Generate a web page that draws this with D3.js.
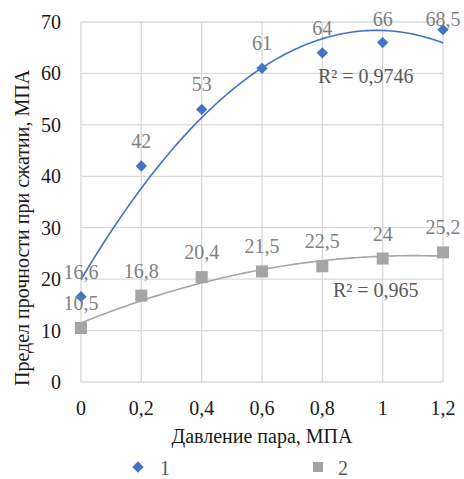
<!DOCTYPE html>
<html>
<head>
<meta charset="utf-8">
<script src="https://cdn.jsdelivr.net/npm/d3@7"></script>
<style>
  body { margin: 0; background: #fff; font-family: "Times New Roman", Tinos, "Liberation Serif", serif; }
  #chart, #chart text { font-family: "Times New Roman", Tinos, "Liberation Serif", serif; }
</style>
</head>
<body>
<svg id="chart" width="464" height="479"></svg>
<script>
// Pressure values, MPa
const pressure = [0, 0.2, 0.4, 0.6, 0.8, 1.0, 1.2];
// Compressive strength, series 1 and series 2
const series1 = [16.6, 42, 53, 61, 64, 66, 68.5];
const series2 = [10.5, 16.8, 20.4, 21.5, 22.5, 24, 25.2];
const series1Labels = ["16,6", "42", "53", "61", "64", "66", "68,5"];
const series2Labels = ["10,5", "16,8", "20,4", "21,5", "22,5", "24", "25,2"];
const xTicks = [0, 0.2, 0.4, 0.6, 0.8, 1.0, 1.2];
const xTickLabels = ["0", "0,2", "0,4", "0,6", "0,8", "1", "1,2"];
const yTicks = [0, 10, 20, 30, 40, 50, 60, 70];
const r2Labels = ["R² = 0,9746", "R² = 0,965"];
const legendNames = ["1", "2"];

const blue = "#4472C4", grey = "#A5A5A5";
const SERIF = "Times New Roman, Tinos, Liberation Serif, serif";

const svg = d3.select("#chart").attr("font-family", SERIF).style("font-family", "'Times New Roman', 'Tinos', 'Liberation Serif', serif");
const x = d3.scaleLinear().domain([0, 1.2]).range([81, 443]);
const y = d3.scaleLinear().domain([0, 70]).range([382, 22]);

// Gridlines
svg.append("g").selectAll("line").data(yTicks).join("line")
  .attr("x1", x(0)).attr("x2", x(1.2))
  .attr("y1", d => y(d)).attr("y2", d => y(d))
  .attr("stroke", "#D9D9D9").attr("stroke-width", 1.3);
svg.append("g").selectAll("line").data(xTicks).join("line")
  .attr("x1", d => x(d)).attr("x2", d => x(d))
  .attr("y1", y(0)).attr("y2", y(70))
  .attr("stroke", "#D9D9D9").attr("stroke-width", 1.3);

// Axis tick labels
svg.append("g").selectAll("text").data(yTicks).join("text")
  .attr("x", 61).attr("y", d => y(d) + 7)
  .attr("text-anchor", "end").attr("font-size", 20).attr("fill", "#1a1a1a")
  .text(d => d);
svg.append("g").selectAll("text").data(xTicks).join("text")
  .attr("x", d => x(d)).attr("y", 415)
  .attr("text-anchor", "middle").attr("font-size", 20).attr("fill", "#1a1a1a")
  .text((d, i) => xTickLabels[i]);

// Axis titles
svg.append("text").attr("x", 262).attr("y", 443)
  .attr("text-anchor", "middle").attr("font-size", 20).attr("fill", "#1a1a1a")
  .text("Давление пара, МПА");
svg.append("text")
  .attr("transform", "translate(29,228) rotate(-90)")
  .attr("text-anchor", "middle").attr("font-size", 20).attr("fill", "#1a1a1a")
  .text("Предел прочности при сжатии, МПА");

// Least-squares quadratic trend
function quadFit(xs, ys) {
  const s = [0, 0, 0, 0, 0], t = [0, 0, 0];
  xs.forEach((xv, i) => {
    for (let k = 0; k < 5; k++) s[k] += Math.pow(xv, k);
    for (let k = 0; k < 3; k++) t[k] += Math.pow(xv, k) * ys[i];
  });
  const A = [[s[0], s[1], s[2], t[0]], [s[1], s[2], s[3], t[1]], [s[2], s[3], s[4], t[2]]];
  for (let i = 0; i < 3; i++) {
    for (let j = i + 1; j < 3; j++) {
      const f = A[j][i] / A[i][i];
      for (let k = i; k < 4; k++) A[j][k] -= f * A[i][k];
    }
  }
  const c = [0, 0, 0];
  for (let i = 2; i >= 0; i--) {
    let v = A[i][3];
    for (let k = i + 1; k < 3; k++) v -= A[i][k] * c[k];
    c[i] = v / A[i][i];
  }
  return xv => c[0] + c[1] * xv + c[2] * xv * xv;
}

const trendLine = d3.line().x(d => x(d[0])).y(d => y(d[1]));
const samples = d3.range(0, 1.2001, 0.01);
[[series1, blue], [series2, grey]].forEach(([vals, col]) => {
  const f = quadFit(pressure, vals);
  svg.append("path").datum(samples.map(v => [v, f(v)]))
    .attr("d", trendLine).attr("fill", "none").attr("stroke", col).attr("stroke-width", 1.6);
});

// Markers
svg.append("g").selectAll("rect").data(pressure).join("rect")
  .attr("x", d => x(d) - 6).attr("y", (d, i) => y(series2[i]) - 6)
  .attr("width", 12).attr("height", 12).attr("fill", grey);
svg.append("g").selectAll("rect").data(pressure).join("rect")
  .attr("width", 8).attr("height", 8).attr("x", -4).attr("y", -4)
  .attr("transform", (d, i) => `translate(${x(d)},${y(series1[i])}) rotate(45)`)
  .attr("fill", blue);

// Data labels (kept inside the top of the chart)
const labelY = v => Math.max(y(v) - 18, 26);
svg.append("g").selectAll("text").data(pressure).join("text")
  .attr("x", d => x(d)).attr("y", (d, i) => labelY(series2[i]))
  .attr("text-anchor", "middle").attr("font-size", 20).attr("fill", "#808080")
  .text((d, i) => series2Labels[i]);
svg.append("g").selectAll("text").data(pressure).join("text")
  .attr("x", d => x(d)).attr("y", (d, i) => labelY(series1[i]))
  .attr("text-anchor", "middle").attr("font-size", 20).attr("fill", "#808080")
  .text((d, i) => series1Labels[i]);

// R² labels
svg.append("text").attr("x", 318).attr("y", 83).attr("font-size", 20).attr("fill", "#595959").text(r2Labels[0]);
svg.append("text").attr("x", 333).attr("y", 297).attr("font-size", 20).attr("fill", "#595959").text(r2Labels[1]);

// Legend
const lg = svg.append("g");
lg.append("rect").attr("width", 8).attr("height", 8).attr("x", -4).attr("y", -4)
  .attr("transform", "translate(138,467) rotate(45)").attr("fill", blue);
lg.append("text").attr("x", 160).attr("y", 475).attr("font-size", 20).attr("fill", "#595959").text(legendNames[0]);
lg.append("rect").attr("x", 313).attr("y", 462).attr("width", 10).attr("height", 10).attr("fill", grey);
lg.append("text").attr("x", 338).attr("y", 475).attr("font-size", 20).attr("fill", "#595959").text(legendNames[1]);
</script>
</body>
</html>
